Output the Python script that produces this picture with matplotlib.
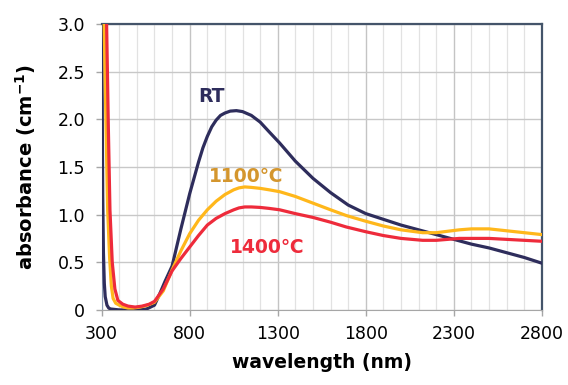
import matplotlib.pyplot as plt
from matplotlib.ticker import MultipleLocator, FuncFormatter

wl_rt = [300, 303, 306, 310, 315, 320, 330, 340, 350, 400, 450, 500, 555, 600, 630, 660,
         700, 750, 800, 850, 875, 900, 925, 950, 975, 1000, 1030, 1065, 1100, 1150, 1200, 1250,
         1311, 1400, 1500, 1600, 1700, 1800, 1900, 2000, 2100, 2200, 2300, 2400, 2500, 2600,
         2700, 2800]
ab_rt = [3.6, 2.2, 1.2, 0.6, 0.28, 0.14, 0.05, 0.02, 0.01, 0.0, 0.0, 0.0, 0.01, 0.05, 0.17, 0.3,
         0.46, 0.85, 1.22, 1.55, 1.70, 1.82, 1.92, 1.99, 2.04, 2.065, 2.085, 2.09, 2.08, 2.04, 1.97, 1.87,
         1.75, 1.56, 1.38, 1.23, 1.10, 1.01, 0.95, 0.89, 0.84, 0.79, 0.74, 0.69, 0.65, 0.6,
         0.55, 0.49]

wl_1100 = [300, 310, 318, 325, 334, 345, 355, 365, 380, 400, 425, 450, 480, 520, 560, 600,
           650, 700, 750, 800, 850, 900, 950, 1000, 1050, 1080, 1113, 1150, 1200, 1250, 1311,
           1400, 1500, 1600, 1689, 1800, 1900, 2000, 2123, 2200, 2331, 2400, 2500, 2600, 2700,
           2800]
ab_1100 = [4.5, 3.4, 2.6, 1.9, 1.05, 0.55, 0.25, 0.12, 0.07, 0.05, 0.03, 0.02, 0.02, 0.03, 0.05, 0.08,
           0.2, 0.42, 0.62, 0.8, 0.94, 1.05, 1.14, 1.21, 1.26, 1.28, 1.29, 1.285, 1.275, 1.26, 1.24,
           1.19, 1.12, 1.05, 0.99, 0.93, 0.88, 0.84, 0.81, 0.81, 0.84, 0.85, 0.85, 0.83, 0.81,
           0.79]

wl_1400 = [300, 315, 322, 328, 338, 347, 360, 375, 392, 420, 450, 490, 530, 570, 600, 650,
           700, 750, 800, 850, 900, 950, 1000, 1050, 1080, 1113, 1150, 1200, 1250, 1311, 1400,
           1500, 1600, 1689, 1800, 1900, 2000, 2123, 2200, 2331, 2400, 2500, 2600, 2700, 2800]
ab_1400 = [5.0, 3.9, 3.4, 3.0, 1.9, 1.05, 0.5, 0.22, 0.1, 0.06, 0.04, 0.03, 0.04, 0.06, 0.09, 0.22,
           0.41, 0.54, 0.66, 0.78, 0.89, 0.96, 1.01, 1.05, 1.07, 1.08, 1.08, 1.075, 1.065, 1.05, 1.01,
           0.97, 0.92, 0.87, 0.82, 0.78, 0.75, 0.73, 0.73, 0.75, 0.75, 0.75, 0.74, 0.73, 0.72]

x_ticks = [300, 800, 1300, 1800, 2300, 2800]

navy = '#2e2d5c'
gold = '#ffb71b'
red = '#ee2b3b'

fig = plt.figure(figsize=(5.68, 3.85), dpi=100)
ax = fig.add_axes([0.179, 0.195, 0.775, 0.743])

ax.plot(wl_rt, ab_rt, color=navy, lw=2.3, zorder=3)
ax.plot(wl_1100, ab_1100, color=gold, lw=2.3, zorder=3)
ax.plot(wl_1400, ab_1400, color=red, lw=2.3, zorder=3)

ax.set_xlim(300, 2800)
ax.set_ylim(0, 3.0)
ax.set_xticks(x_ticks)
ax.xaxis.set_minor_locator(MultipleLocator(100))
ax.yaxis.set_major_locator(MultipleLocator(0.5))
ax.yaxis.set_major_formatter(FuncFormatter(lambda v, p: '0' if v == 0 else f'{v:.1f}'))

ax.grid(which='major', axis='x', color='#c4c4c4', lw=1.0, zorder=0)
ax.grid(which='minor', axis='x', color='#e2e2e2', lw=0.9, zorder=0)
ax.grid(which='major', axis='y', color='#c8c8c8', lw=1.0, zorder=0)

ax.tick_params(which='major', length=4, width=1, color='#a6a6a6', labelsize=12.5)
ax.tick_params(axis='y', pad=8)
ax.tick_params(axis='x', pad=7)
ax.tick_params(which='minor', length=0)

for s in ['top', 'right']:
    ax.spines[s].set_color('#44546a')
    ax.spines[s].set_linewidth(1.6)
ax.spines['left'].set_color('#8a9bb5')
ax.spines['bottom'].set_color('#a6a6a6')

ax.set_xlabel('wavelength (nm)', fontsize=13.5, fontweight='bold', labelpad=7)
ax.set_ylabel('absorbance (cm$^{\\mathbf{-1}}$)', fontsize=14, fontweight='bold', labelpad=14)

ax.text(925, 2.24, 'RT', color=navy, fontsize=13.5, fontweight='bold', ha='center', va='center')
ax.text(1118, 1.40, '1100℃', color='#d4962e', fontsize=13.5, fontweight='bold', ha='center', va='center')
ax.text(1243, 0.65, '1400℃', color=red, fontsize=13.5, fontweight='bold', ha='center', va='center')

fig.savefig('out.png', dpi=100)
